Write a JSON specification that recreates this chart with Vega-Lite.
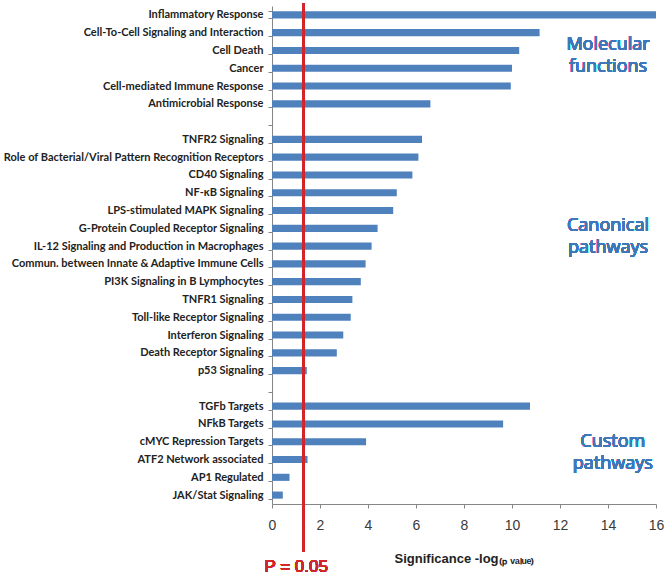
{
  "$schema": "https://vega.github.io/schema/vega-lite/v6.json",
  "autosize": {"type": "fit", "contains": "padding"},
  "width": 666,
  "height": 575,
  "padding": {"left": 3, "top": 0, "right": 2, "bottom": 0},
  "background": "white",
  "config": {
    "view": {"stroke": null},
    "axis": {"domainColor": "#868686", "tickColor": "#868686", "grid": false}
  },
  "data": {
    "values": [
      {"term": "Inflammatory Response", "value": 16.0},
      {"term": "Cell-To-Cell Signaling and Interaction", "value": 11.15},
      {"term": "Cell Death", "value": 10.3},
      {"term": "Cancer", "value": 10.0},
      {"term": "Cell-mediated Immune Response", "value": 9.95},
      {"term": "Antimicrobial Response", "value": 6.6},
      {"term": "TNFR2 Signaling", "value": 6.25},
      {"term": "Role of Bacterial/Viral Pattern Recognition Receptors", "value": 6.1},
      {"term": "CD40 Signaling", "value": 5.85},
      {"term": "NF-κB Signaling", "value": 5.2},
      {"term": "LPS-stimulated MAPK Signaling", "value": 5.05},
      {"term": "G-Protein Coupled Receptor Signaling", "value": 4.4},
      {"term": "IL-12 Signaling and Production in Macrophages", "value": 4.15},
      {"term": "Commun. between Innate & Adaptive Immune Cells", "value": 3.9},
      {"term": "PI3K Signaling in B Lymphocytes", "value": 3.7},
      {"term": "TNFR1 Signaling", "value": 3.35},
      {"term": "Toll-like Receptor Signaling", "value": 3.28},
      {"term": "Interferon Signaling", "value": 2.97},
      {"term": "Death Receptor Signaling", "value": 2.7},
      {"term": "p53 Signaling", "value": 1.45},
      {"term": "TGFb Targets", "value": 10.75},
      {"term": "NFkB Targets", "value": 9.63},
      {"term": "cMYC Repression Targets", "value": 3.92},
      {"term": "ATF2 Network associated", "value": 1.48},
      {"term": "AP1 Regulated", "value": 0.73},
      {"term": "JAK/Stat Signaling", "value": 0.45}
    ]
  },
  "encoding": {
    "y": {
      "field": "term",
      "type": "nominal",
      "scale": {
        "domain": ["Inflammatory Response", "Cell-To-Cell Signaling and Interaction", "Cell Death", "Cancer", "Cell-mediated Immune Response", "Antimicrobial Response", " ", "TNFR2 Signaling", "Role of Bacterial/Viral Pattern Recognition Receptors", "CD40 Signaling", "NF-κB Signaling", "LPS-stimulated MAPK Signaling", "G-Protein Coupled Receptor Signaling", "IL-12 Signaling and Production in Macrophages", "Commun. between Innate & Adaptive Immune Cells", "PI3K Signaling in B Lymphocytes", "TNFR1 Signaling", "Toll-like Receptor Signaling", "Interferon Signaling", "Death Receptor Signaling", "p53 Signaling", "  ", "TGFb Targets", "NFkB Targets", "cMYC Repression Targets", "ATF2 Network associated", "AP1 Regulated", "JAK/Stat Signaling"],
        "paddingInner": 0.6,
        "paddingOuter": 0.3
      },
      "axis": {
        "title": null,
        "tickBand": "extent",
        "tickSize": 4,
        "labelPadding": 5,
        "labelFont": "Lato",
        "labelFontWeight": "bold",
        "labelFontSize": 11,
        "labelColor": "#222222",
        "labelLimit": 400
      }
    }
  },
  "layer": [
    {
      "mark": {"type": "bar", "color": "#4F81BD"},
      "encoding": {
        "x": {
          "field": "value",
          "type": "quantitative",
          "scale": {"domain": [0, 16], "nice": false},
          "axis": {
            "values": [0, 2, 4, 6, 8, 10, 12, 14, 16],
            "tickSize": 4,
            "labelFont": "Liberation Sans",
            "labelFontSize": 14,
            "labelColor": "#3a3a3a",
            "labelPadding": 10,
            "labelFlush": false,
            "title": "Significance -log₍ₚ ᵥₐₗᵤₑ₎",
            "titleFont": "Liberation Sans",
            "titleFontSize": 13,
            "titleFontWeight": "bold",
            "titleColor": "#222222",
            "titlePadding": 20
          }
        }
      }
    },
    {
      "mark": {"type": "rule", "color": "#D1262B", "strokeWidth": 2, "yOffset": -3, "y2Offset": 48},
      "encoding": {
        "x": {"datum": 1.3},
        "y": {"value": 0},
        "y2": {"value": "height"}
      }
    },
    {
      "mark": {"type": "text", "color": "#D1262B", "font": "Liberation Sans", "fontSize": 17, "align": "center", "baseline": "middle", "dy": 63, "dx": -7},
      "encoding": {
        "x": {"datum": 1.3},
        "y": {"value": "height"},
        "text": {"value": "P = 0.05"}
      }
    },
    {
      "mark": {"type": "text", "color": "#3F78B8", "font": "Open Sans", "fontSize": 18, "align": "center", "baseline": "middle", "lineHeight": 22, "dy": -5},
      "encoding": {
        "x": {"datum": 14.0},
        "y": {"datum": "Cell Death"},
        "text": {"value": ["Molecular", "functions"]}
      }
    },
    {
      "mark": {"type": "text", "color": "#3F78B8", "font": "Open Sans", "fontSize": 18, "align": "center", "baseline": "middle", "lineHeight": 22, "dy": -2},
      "encoding": {
        "x": {"datum": 14.0},
        "y": {"datum": "G-Protein Coupled Receptor Signaling"},
        "text": {"value": ["Canonical", "pathways"]}
      }
    },
    {
      "mark": {"type": "text", "color": "#3F78B8", "font": "Open Sans", "fontSize": 18, "align": "center", "baseline": "middle", "lineHeight": 22},
      "encoding": {
        "x": {"datum": 14.2},
        "y": {"datum": "cMYC Repression Targets"},
        "text": {"value": ["Custom", "pathways"]}
      }
    }
  ]
}
